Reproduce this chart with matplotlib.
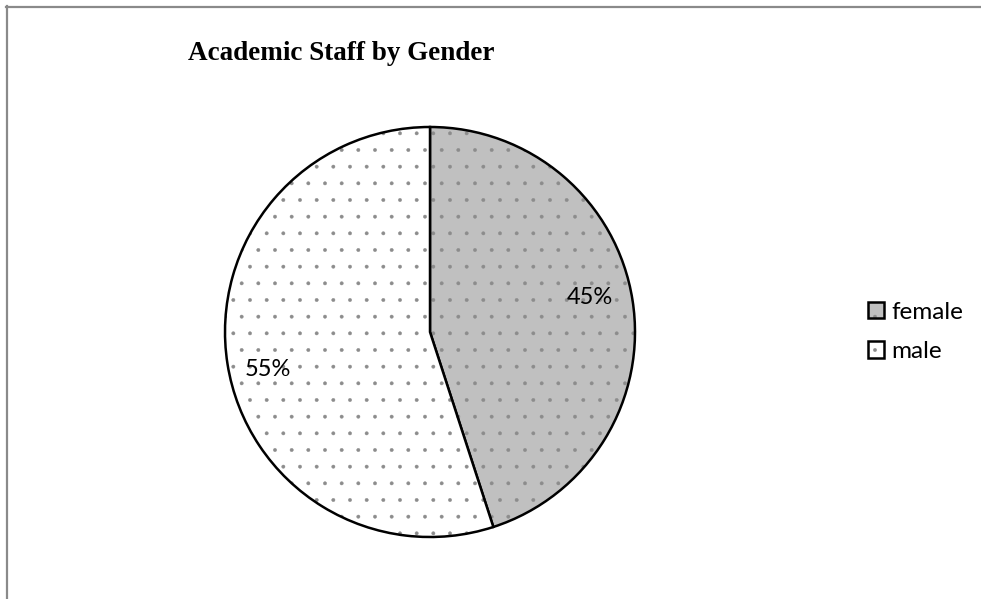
import matplotlib
matplotlib.use('Agg')
import matplotlib.pyplot as plt
from matplotlib.colors import to_rgba
from matplotlib.lines import Line2D

# staff split by gender, in percent
labels = ['female', 'male']
shares = [45, 55]
colors = ['#c0c0c0', '#ffffff']

plt.rcParams['hatch.linewidth'] = 0.3

W, H = 981, 599
fig = plt.figure(figsize=(W / 100, H / 100), dpi=100)

# pie placed by pixel centre and radius
cx, cy, r = 430, 332, 205
ax = fig.add_axes([(cx - r) / W, 1 - (cy + r) / H, 2 * r / W, 2 * r / H])
wedges, texts, autotexts = ax.pie(
    shares, colors=colors, startangle=90, counterclock=False,
    autopct='%d%%', radius=1,
    wedgeprops=dict(edgecolor='black', linewidth=1.8, hatch='.'),
    textprops=dict(fontsize=17, family='Lato', color='black'))
# grey dots while keeping the black outline
for w in wedges:
    w._hatch_color = to_rgba('#8c8c8c')
ax.set_xlim(-1, 1)
ax.set_ylim(-1, 1)
ax.set_aspect('equal')
ax.axis('off')

# percent labels sit off the wedge middles
autotexts[0].set_position((0.78, 0.17))
autotexts[1].set_position((-0.79, -0.185))

fig.text(188 / W, 1 - 60 / H, 'Academic Staff by Gender', ha='left', va='baseline',
         fontsize=19.5, fontweight='bold', family='Liberation Serif')

fig.legend(wedges, labels, loc='center left', bbox_to_anchor=(846 / W, 1 - 332 / H),
           frameon=False, prop=dict(family='Lato', size=17.5),
           handlelength=0.65, handleheight=0.65, handletextpad=0.3, labelspacing=0.75)

# chart frame, only top and left edges fall inside the image
fig.add_artist(Line2D([6.5 / W, 6.5 / W], [1 - 6 / H, 0], color='#8a8a8a', lw=1.6))
fig.add_artist(Line2D([6 / W, 1], [1 - 6.5 / H, 1 - 6.5 / H], color='#8a8a8a', lw=1.6))

fig.savefig('out.png', dpi=100)
